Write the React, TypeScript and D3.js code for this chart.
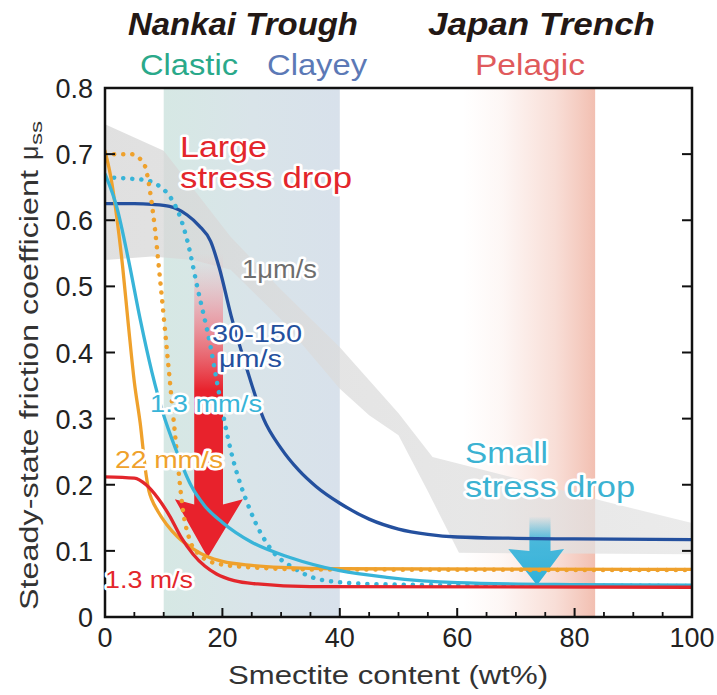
import React from 'react';
import * as d3 from 'd3';

const W = 717;
const H = 695;
const PLOT = { left: 105, right: 692, top: 88, bottom: 617 };
const FONT = '"Liberation Sans", Arial, Helvetica, sans-serif';

// axis ticks
const xMajorTicks = [0, 20, 40, 60, 80, 100];
const xMinorTicks = [5, 10, 15, 25, 30, 35, 45, 50, 55, 65, 70, 75, 85, 90, 95];
const yTicks = [0, 0.1, 0.2, 0.3, 0.4, 0.5, 0.6, 0.7, 0.8];
const yTickLabels = ['0', '0.1', '0.2', '0.3', '0.4', '0.5', '0.6', '0.7', '0.8'];

// shaded regions (smectite wt%)
const nankaiBand = [10, 40];
const pelagicBand = [61, 83.5];

// 1 µm/s range (gray envelope)
const grayUpperX = [0, 10, 21.4, 30, 40, 50, 55.8, 70, 85, 100];
const grayUpperY = [0.745, 0.705, 0.575, 0.495, 0.408, 0.308, 0.242, 0.21, 0.175, 0.142];
const grayLowerX = [0, 8, 15, 21.4, 30, 40, 45, 50, 55, 60.3, 80, 100];
const grayLowerY = [0.54, 0.545, 0.54, 0.525, 0.45, 0.345, 0.305, 0.275, 0.19, 0.097, 0.096, 0.095];

// 30-150 µm/s (dark blue)
const blueX = [0, 5, 8, 11, 14, 16, 18, 19.5, 21.5, 24, 27, 30, 33, 36, 40, 45, 50, 55, 60, 70, 80, 100];
const blueY = [0.625, 0.625, 0.624, 0.621, 0.608, 0.592, 0.568, 0.527, 0.455, 0.38, 0.3, 0.255, 0.222, 0.197, 0.172, 0.148, 0.133, 0.125, 0.121, 0.119, 0.118, 0.117];

// 1.3 mm/s solid (cyan)
const cyanX = [0, 2, 4, 6, 8, 10, 12, 14.6, 17, 20, 25, 31.5, 40, 48, 60, 80, 100];
const cyanY = [0.67, 0.62, 0.54, 0.45, 0.37, 0.305, 0.255, 0.2, 0.168, 0.143, 0.113, 0.09, 0.07, 0.06, 0.052, 0.049, 0.048];

// 1.3 mm/s dotted (cyan)
const cyanDotX = [0, 4, 7.3, 9.5, 11.2, 13, 14, 15.7, 18, 19.1, 21.4, 24.7, 28.4, 32, 37, 45, 60, 100];
const cyanDotY = [0.665, 0.663, 0.66, 0.65, 0.634, 0.6, 0.57, 0.5, 0.408, 0.354, 0.253, 0.162, 0.101, 0.075, 0.056, 0.05, 0.048, 0.047];

// 22 mm/s solid (orange)
const orangeX = [0, 1, 2, 3, 4, 5, 6, 7, 7.5, 8, 9, 10.5, 12.4, 15, 17.5, 20, 25, 30, 40, 100];
const orangeY = [0.705, 0.665, 0.605, 0.53, 0.44, 0.355, 0.293, 0.215, 0.19, 0.177, 0.16, 0.14, 0.121, 0.103, 0.091, 0.084, 0.078, 0.075, 0.073, 0.072];

// 22 mm/s dotted (orange)
const orangeDotX = [0, 4.4, 6.6, 8.2, 9.5, 10.8, 12, 13.3, 14.5, 16, 19, 25, 35, 100];
const orangeDotY = [0.7, 0.7, 0.686, 0.61, 0.5, 0.38, 0.27, 0.16, 0.115, 0.095, 0.081, 0.075, 0.072, 0.071];

// 1.3 m/s (red)
const redX = [0, 5, 7, 9, 11, 13, 15, 17, 19, 22, 26, 35, 100];
const redY = [0.212, 0.21, 0.2, 0.18, 0.153, 0.12, 0.095, 0.077, 0.065, 0.055, 0.05, 0.046, 0.045];

// annotation arrows [x, mu]
const bigArrow = [[15.2, 0.55], [20.1, 0.55], [20.1, 0.17], [23.5, 0.178], [17.5, 0.09], [11.9, 0.178], [15.2, 0.17]];
const smallArrow = [[72.3, 0.152], [75.9, 0.152], [75.9, 0.1], [78.2, 0.103], [73.6, 0.048], [68.7, 0.103], [72.3, 0.1]];

const COLORS = {
  blue: '#24509e',
  cyan: '#38b4d8',
  orange: '#efa12c',
  red: '#e3262b',
};

const x = d3.scaleLinear().domain([0, 100]).range([PLOT.left, PLOT.right]);
const y = d3.scaleLinear().domain([0, 0.8]).range([PLOT.bottom, PLOT.top]);

const zip = (xs: number[], ys: number[]) => xs.map((v, i) => [v, ys[i]] as [number, number]);
const lineGen = d3
  .line<[number, number]>()
  .x((d) => x(d[0]))
  .y((d) => y(d[1]))
  .curve(d3.curveMonotoneX);

const grayPath = (() => {
  const up = zip(grayUpperX, grayUpperY);
  const lo = zip(grayLowerX, grayLowerY).reverse();
  const pts = [...up, ...lo];
  return d3
    .line<[number, number]>()
    .x((d) => x(d[0]))
    .y((d) => y(d[1]))
    .curve(d3.curveLinearClosed)(pts) as string;
})();

const polyPath = (pts: number[][]) =>
  d3
    .line<number[]>()
    .x((d) => x(d[0]))
    .y((d) => y(d[1]))
    .curve(d3.curveLinearClosed)(pts) as string;

type LabelProps = {
  x: number;
  y: number;
  text: string;
  size: number;
  color: string;
  len?: number;
  anchor?: 'start' | 'middle' | 'end';
  halo?: boolean;
  weight?: string;
  italic?: boolean;
};

const Label = ({ x, y, text, size, color, len, anchor = 'start', halo = false, weight = 'normal', italic = false }: LabelProps) => (
  <text
    x={x}
    y={y}
    fontSize={size}
    fill={color}
    textAnchor={anchor}
    fontWeight={weight}
    fontStyle={italic ? 'italic' : 'normal'}
    fontFamily={FONT}
    textLength={len}
    lengthAdjust={len ? 'spacingAndGlyphs' : undefined}
    stroke={halo ? '#ffffff' : 'none'}
    strokeWidth={halo ? 5 : 0}
    strokeLinejoin="round"
    style={{ paintOrder: 'stroke' }}
  >
    {text}
  </text>
);

export default function App() {
  const series = [
    { xs: blueX, ys: blueY, color: COLORS.blue, dotted: false },
    { xs: cyanDotX, ys: cyanDotY, color: COLORS.cyan, dotted: true },
    { xs: orangeDotX, ys: orangeDotY, color: COLORS.orange, dotted: true },
    { xs: orangeX, ys: orangeY, color: COLORS.orange, dotted: false },
    { xs: cyanX, ys: cyanY, color: COLORS.cyan, dotted: false },
    { xs: redX, ys: redY, color: COLORS.red, dotted: false },
  ];

  return (
    <svg width={W} height={H} style={{ position: 'absolute', left: 0, top: 0, background: '#fff' }}>
      <defs>
        <linearGradient id="nankaiGrad" x1="0" x2="1" y1="0" y2="0">
          <stop offset="0" stopColor="#d6e8e4" />
          <stop offset="0.5" stopColor="#d9e4e9" />
          <stop offset="1" stopColor="#d8e1eb" />
        </linearGradient>
        <linearGradient id="pelagicGrad" x1="0" x2="1" y1="0" y2="0">
          <stop offset="0" stopColor="#f3c3b6" stopOpacity="0" />
          <stop offset="0.3" stopColor="#f3c3b6" stopOpacity="0.14" />
          <stop offset="0.7" stopColor="#f3c3b6" stopOpacity="0.55" />
          <stop offset="1" stopColor="#f2bfb1" stopOpacity="1" />
        </linearGradient>
        <linearGradient id="grayGrad" x1="0" x2="1" y1="0" y2="0">
          <stop offset="0" stopColor="#d6d6d6" />
          <stop offset="1" stopColor="#e4e4e4" />
        </linearGradient>
        <linearGradient id="bigArrowGrad" x1="0" x2="0" y1="0" y2="1">
          <stop offset="0" stopColor="#f7a9b3" stopOpacity="0" />
          <stop offset="0.2" stopColor="#f27f8c" stopOpacity="0.6" />
          <stop offset="0.45" stopColor="#e8222c" stopOpacity="1" />
          <stop offset="1" stopColor="#e8222c" stopOpacity="1" />
        </linearGradient>
        <linearGradient id="smallArrowGrad" x1="0" x2="0" y1="0" y2="1">
          <stop offset="0" stopColor="#2eb1da" stopOpacity="0" />
          <stop offset="0.35" stopColor="#2eb1da" stopOpacity="0.85" />
          <stop offset="1" stopColor="#2eb1da" stopOpacity="1" />
        </linearGradient>
        <clipPath id="plotClip">
          <rect x={PLOT.left} y={PLOT.top} width={PLOT.right - PLOT.left} height={PLOT.bottom - PLOT.top} />
        </clipPath>
      </defs>

      {/* headers */}
      <Label x={128} y={35} text="Nankai Trough" size={31} color="#231815" weight="bold" italic len={230} />
      <Label x={428} y={35} text="Japan Trench" size={31} color="#231815" weight="bold" italic len={227} />
      <Label x={140} y={75} text="Clastic" size={30} color="#2aa98a" len={98} />
      <Label x={267} y={75} text="Clayey" size={30} color="#5c79b6" len={100} />
      <Label x={475} y={75} text="Pelagic" size={30} color="#e05a5c" len={110} />

      <g clipPath="url(#plotClip)">
        <rect
          x={x(nankaiBand[0])}
          y={PLOT.top}
          width={x(nankaiBand[1]) - x(nankaiBand[0])}
          height={PLOT.bottom - PLOT.top}
          fill="url(#nankaiGrad)"
        />
        <rect
          x={x(pelagicBand[0])}
          y={PLOT.top}
          width={x(pelagicBand[1]) - x(pelagicBand[0])}
          height={PLOT.bottom - PLOT.top}
          fill="url(#pelagicGrad)"
        />
        <path d={grayPath} fill="url(#grayGrad)" opacity={0.75} />
        <path d={polyPath(bigArrow)} fill="url(#bigArrowGrad)" />
        <path d={polyPath(smallArrow)} fill="url(#smallArrowGrad)" />
        {series.map((s, i) => (
          <path
            key={i}
            d={lineGen(zip(s.xs, s.ys)) as string}
            fill="none"
            stroke={s.color}
            strokeWidth={s.dotted ? 4.5 : 3.3}
            strokeLinecap="round"
            strokeDasharray={s.dotted ? '0.1 9' : undefined}
          />
        ))}
      </g>

      {/* frame */}
      <rect
        x={PLOT.left}
        y={PLOT.top}
        width={PLOT.right - PLOT.left}
        height={PLOT.bottom - PLOT.top}
        fill="none"
        stroke="#111"
        strokeWidth={2.5}
      />
      {yTicks.map((t) => (
        <g key={'yt' + t}>
          <line x1={PLOT.left} x2={PLOT.left + 10} y1={y(t)} y2={y(t)} stroke="#111" strokeWidth={2} />
          <line x1={PLOT.right} x2={PLOT.right - 10} y1={y(t)} y2={y(t)} stroke="#111" strokeWidth={2} />
        </g>
      ))}
      {xMajorTicks.map((t) => (
        <line key={'xm' + t} x1={x(t)} x2={x(t)} y1={PLOT.bottom} y2={PLOT.bottom - 9} stroke="#111" strokeWidth={2} />
      ))}
      {xMinorTicks.map((t) => (
        <line key={'xn' + t} x1={x(t)} x2={x(t)} y1={PLOT.bottom} y2={PLOT.bottom - 5} stroke="#111" strokeWidth={1.8} />
      ))}
      {yTicks.map((t, i) => (
        <Label key={'yl' + t} x={93} y={y(t) + 10} text={yTickLabels[i]} size={27} color="#222" anchor="end" />
      ))}
      {xMajorTicks.map((t) => (
        <Label key={'xl' + t} x={x(t)} y={647} text={String(t)} size={27} color="#222" anchor="middle" />
      ))}

      {/* axis titles */}
      <Label x={228} y={684} text="Smectite content (wt%)" size={25} color="#333" len={320} />
      <g transform="translate(38,610) rotate(-90)">
        <text x={0} y={0} fontFamily={FONT} fontSize={25} fill="#333" textLength={440} lengthAdjust="spacingAndGlyphs">
          Steady-state friction coefficient
        </text>
        <text x={450} y={0} fontFamily={FONT} fontSize={25} fill="#333">
          μ
        </text>
        <text x={465} y={4} fontFamily={FONT} fontSize={17} fill="#333" textLength={24} lengthAdjust="spacingAndGlyphs">
          ss
        </text>
      </g>

      {/* annotations */}
      <Label x={180} y={157} text="Large" size={30} color="#e3262b" halo len={87} />
      <Label x={180} y={188} text="stress drop" size={30} color="#e3262b" halo len={172} />
      <Label x={242} y={278} text="1μm/s" size={25} color="#6e6e6e" halo len={75} />
      <Label x={212} y={342} text="30-150" size={23} color={COLORS.blue} halo len={90} />
      <Label x={219} y={367} text="μm/s" size={23} color={COLORS.blue} halo len={63} />
      <Label x={150} y={412} text="1.3 mm/s" size={24} color={COLORS.cyan} halo len={112} />
      <Label x={115} y={468} text="22 mm/s" size={24} color={COLORS.orange} halo len={108} />
      <Label x={105} y={588} text="1.3 m/s" size={24} color={COLORS.red} halo len={88} />
      <Label x={465} y={463} text="Small" size={30} color="#3bb2d2" halo len={83} />
      <Label x={465} y={497} text="stress drop" size={30} color="#3bb2d2" halo len={170} />
    </svg>
  );
}
